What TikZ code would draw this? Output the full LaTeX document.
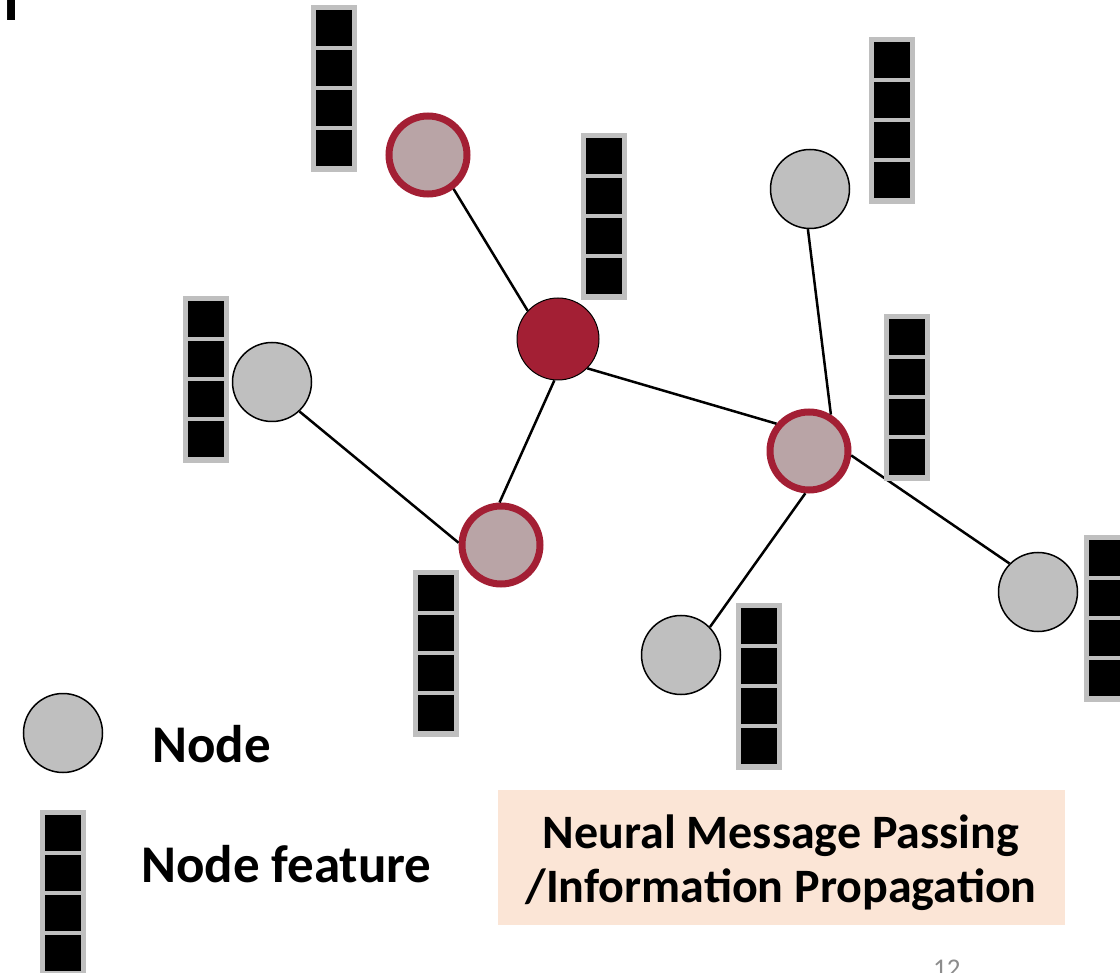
\documentclass[tikz,border=0pt]{standalone}
\usepackage{fontspec}
\setmainfont{Carlito}
\definecolor{nodegray}{HTML}{BFBFBF}
\definecolor{darkred}{HTML}{A31F34}
\definecolor{pinkfill}{HTML}{B9A4A6}
\definecolor{peach}{HTML}{FBE5D6}
\definecolor{pagenum}{HTML}{8C8C8C}
\tikzset{
  graynode/.style={circle, draw=black, line width=1.5pt, fill=nodegray, minimum size=79pt, inner sep=0pt},
  rednode/.style={circle, draw=darkred, line width=7pt, fill=pinkfill, minimum size=78pt, inner sep=0pt},
  centernode/.style={circle, draw=black, line width=1pt, fill=darkred, minimum size=82pt, inner sep=0pt},
  edge/.style={line width=2.5pt, black},
  pics/featvec/.style={code={
    \fill[nodegray] (0,0) rectangle (46,167);
    \foreach \k in {0,1,2,3}{
      \fill[black] (5,5+40*\k) rectangle (41,41+40*\k);
    }
  }},
  legtext/.style={font=\fontsize{53}{58}\selectfont\bfseries, anchor=base west, inner sep=0pt},
  boxtext/.style={font=\fontsize{48}{54}\selectfont\bfseries, anchor=base, inner sep=0pt}
}
\begin{document}
\begin{tikzpicture}[x=1pt,y=-1pt]
\useasboundingbox (0,0) rectangle (1120,973);
% cropped text fragments
\node[font=\fontsize{64}{70}\selectfont\bfseries, anchor=base east, inner sep=0pt] (frag) at (19.5,21) {n};
\node[font=\fontsize{27}{30}\selectfont, text=pagenum, anchor=north west, inner sep=0pt] (pnum) at (933,960) {12};
% nodes
\node[rednode] (a) at (428,155) {};
\node[centernode] (c) at (558,339) {};
\node[graynode] (l) at (272,382) {};
\node[rednode] (b) at (501,545) {};
\node[rednode] (r) at (809,451) {};
\node[graynode] (tr) at (810,189) {};
\node[graynode] (bg) at (681,655) {};
\node[graynode] (rg) at (1038,592) {};
% edges
\draw[edge] (a.-53) -- (c.137);
\draw[edge] (l.-47) -- (b.177);
\draw[edge] (c.-95) -- (b.92);
\draw[edge] (c.-45) -- (r.140);
\draw[edge] (tr.-93) -- (r.59);
\draw[edge] (r.-95) -- (bg.44);
\draw[edge] (r.-6) -- (rg.135);
% feature vectors
\pic at (311,5) {featvec};
\pic at (581,133) {featvec};
\pic at (869,37) {featvec};
\pic at (183,296) {featvec};
\pic at (884,314) {featvec};
\pic at (413,570) {featvec};
\pic at (736,603) {featvec};
\pic at (1084,535) {featvec};
% legend
\node[graynode] (leg) at (63,733) {};
\pic at (40,810) {featvec};
\node[legtext] (legnode) at (152,762) {Node};
\node[legtext] (legfeat) at (141,882) {Node feature};
% box
\fill[peach] (498,790) rectangle (1065,925);
\node[boxtext] (box1) at (781,848) {Neural Message Passing};
\node[boxtext] (box2) at (781,902) {/Information Propagation};
\end{tikzpicture}
\end{document}
